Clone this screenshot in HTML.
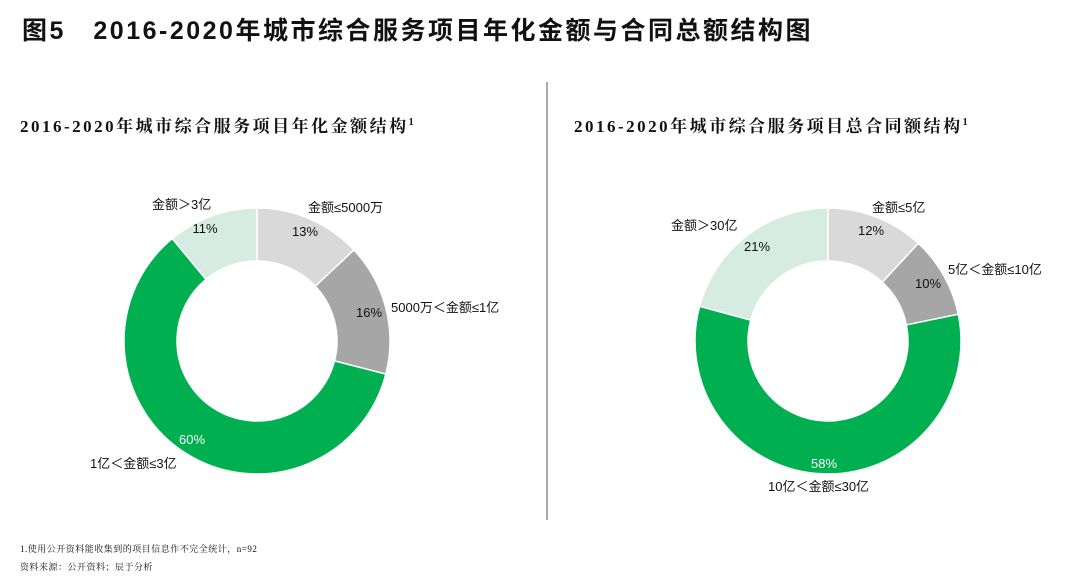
<!DOCTYPE html>
<html><head><meta charset="utf-8">
<style>
body{margin:0;width:1080px;height:577px;background:#fff;overflow:hidden;font-family:"Liberation Sans","Noto Sans CJK SC",sans-serif;}
svg{position:absolute;left:0;top:0}
</style></head><body>
<svg id="s" width="1080" height="577" xmlns="http://www.w3.org/2000/svg">
<text x="22" y="39" font-size="25" font-weight="bold" letter-spacing="2.5" font-family="Liberation Sans, Noto Sans CJK SC, sans-serif" fill="#111">图5　2016-2020年城市综合服务项目年化金额与合同总额结构图</text>
<line x1="547" y1="82" x2="547" y2="520" stroke="#555" stroke-width="1"/>
<text x="20" y="132" font-size="17" font-weight="bold" letter-spacing="2.5" font-family="Liberation Serif, Noto Serif CJK SC, serif" fill="#111">2016-2020年城市综合服务项目年化金额结构<tspan font-size="10" dy="-7">1</tspan></text>
<text x="574" y="132" font-size="17" font-weight="bold" letter-spacing="2.5" font-family="Liberation Serif, Noto Serif CJK SC, serif" fill="#111">2016-2020年城市综合服务项目总合同额结构<tspan font-size="10" dy="-7">1</tspan></text>
<g id="d1"></g><g id="d2"></g>
<g font-size="13" fill="#111">
<text x="152" y="209">金额＞3亿</text>
<text x="308" y="212">金额≤5000万</text>
<text x="391" y="312">5000万＜金额≤1亿</text>
<text x="90" y="468">1亿＜金额≤3亿</text>
<text x="205" y="233" text-anchor="middle">11%</text>
<text x="305" y="236" text-anchor="middle">13%</text>
<text x="369" y="317" text-anchor="middle">16%</text>
<text x="192" y="444" text-anchor="middle" fill="#fff">60%</text>
<text x="671" y="230">金额＞30亿</text>
<text x="872" y="212">金额≤5亿</text>
<text x="948" y="274">5亿＜金额≤10亿</text>
<text x="768" y="491">10亿＜金额≤30亿</text>
<text x="757" y="251" text-anchor="middle">21%</text>
<text x="871" y="235" text-anchor="middle">12%</text>
<text x="928" y="288" text-anchor="middle">10%</text>
<text x="824" y="468" text-anchor="middle" fill="#fff">58%</text>
</g>
<text x="20" y="552" font-size="9" letter-spacing="0.5" font-family="Liberation Serif, Noto Serif CJK SC, serif" fill="#111">1.使用公开资料能收集到的项目信息作不完全统计，n=92</text>
<text x="20" y="570" font-size="9" letter-spacing="0.5" font-family="Liberation Serif, Noto Serif CJK SC, serif" fill="#111">资料来源：公开资料；辰于分析</text>
</svg>
<script>
function donut(id,cx,cy,R,r,vals,cols){
 var g=document.getElementById(id),t=vals.reduce(function(a,b){return a+b},0),a=-Math.PI/2,h='';
 vals.forEach(function(v,i){
  var b=a+v/t*2*Math.PI,l=(b-a)>Math.PI?1:0;
  function p(rr,ang){return (cx+rr*Math.cos(ang)).toFixed(2)+' '+(cy+rr*Math.sin(ang)).toFixed(2)}
  h+='<path d="M'+p(R,a)+' A'+R+' '+R+' 0 '+l+' 1 '+p(R,b)+' L'+p(r,b)+' A'+r+' '+r+' 0 '+l+' 0 '+p(r,a)+'Z" fill="'+cols[i]+'" stroke="#fff" stroke-width="1.5"/>';
  a=b;});
 g.innerHTML=h;
}
var c=['#d9d9d9','#a6a6a6','#00b050','#d6ece2'];
donut('d1',257,341,133,80,[13,16,60,11],c);
donut('d2',828,341,133,80,[12,10,58,21],c);
</script>
</body></html>
